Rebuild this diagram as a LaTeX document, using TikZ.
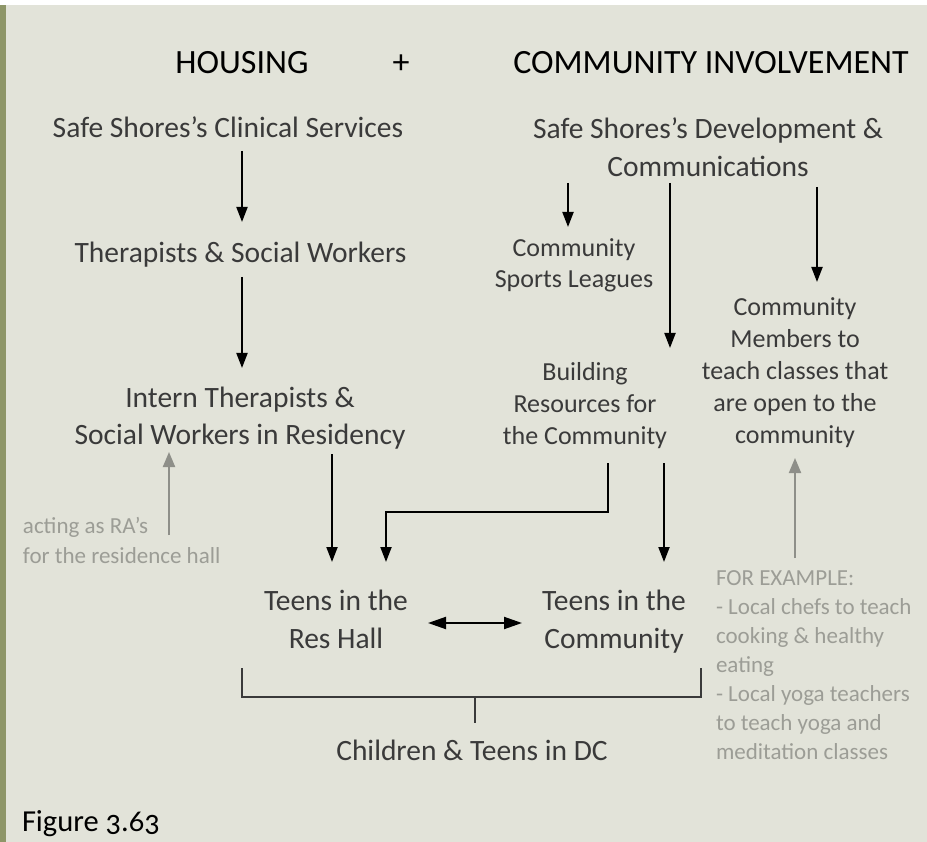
\documentclass[tikz,border=0pt]{standalone}
\usepackage{fontspec}
\setmainfont{Carlito}
\usetikzlibrary{arrows.meta,calc}

\definecolor{paper}{HTML}{E2E3D9}
\definecolor{spine}{HTML}{8E9668}
\definecolor{ink}{HTML}{3A3A3A}
\definecolor{note}{HTML}{9C9D96}
\definecolor{notearrow}{HTML}{8E8F89}

\begin{document}
\begin{tikzpicture}[x=1pt,y=-1pt,
  every node/.style={inner sep=0pt,outer sep=0pt},
  head/.style={font=\fontsize{34}{40}\selectfont,text=black,anchor=base},
  body/.style={font=\fontsize{29.5}{37}\selectfont,text=ink,anchor=base,align=center},
  small/.style={font=\fontsize{26}{32}\selectfont,text=ink,anchor=base,align=center},
  remark/.style={font=\fontsize{23}{29}\selectfont,text=note,anchor=base west,align=left},
  arr/.style={draw=black,line width=2pt,-{Triangle[width=11pt,length=15pt]}},
  darr/.style={draw=black,line width=2pt,{Triangle[width=12pt,length=18pt]}-{Triangle[width=12pt,length=18pt]}},
  garr/.style={draw=notearrow,line width=2pt,-{Triangle[width=12pt,length=15pt]}},
  brace/.style={draw=ink,line width=1.5pt}
]
% page, background and left spine
\useasboundingbox (0,0) rectangle (927,842);
\fill[white] (0,0) rectangle (927,842);
\fill[paper] (0,5) rectangle (927,842);
\fill[spine] (0,5) rectangle (6,842);

% headings
\node[head] (housing) at (242,74) {HOUSING};
\node[head] (plus) at (401,74) {+};
\node[head] (involve) at (711,74) {COMMUNITY INVOLVEMENT};

% housing column (multi-line nodes sit on their last baseline)
\node[body] (clin) at (228,138) {Safe Shores's Clinical Services};
\node[body] (ther) at (240.5,263) {Therapists \& Social Workers};
\node[body] (intern) at (240,444) {Intern Therapists \&\\Social Workers in Residency};
\node[remark,font=\fontsize{23}{30}\selectfont] (ra) at (23,563) {acting as RA's\\for the residence hall};

% community column
\node[body,font=\fontsize{29.5}{38}\selectfont] (dev) at (708,177) {Safe Shores's Development \&\\Communications};
\node[small,font=\fontsize{26}{31}\selectfont] (sports) at (574,288) {Community\\Sports Leagues};
\node[small,font=\fontsize{26}{32.5}\selectfont] (build) at (585,445) {Building\\Resources for\\the Community};
\node[small] (members) at (795,443) {Community\\Members to\\teach classes that\\are open to the\\community};
\node[remark] (example) at (716,759) {FOR EXAMPLE:\\- Local chefs to teach\\cooking \& healthy\\eating\\- Local yoga teachers\\to teach yoga and\\meditation classes};

% teens and children
\node[body,font=\fontsize{29.5}{38}\selectfont] (resh) at (336,648) {Teens in the\\Res Hall};
\node[body,font=\fontsize{29.5}{38}\selectfont] (teenc) at (614,648) {Teens in the\\Community};
\node[body] (kids) at (472,760) {Children \& Teens in DC};

% caption
\node[font=\fontsize{30.5}{36}\selectfont\addfontfeatures{Numbers=OldStyle},text=black,anchor=base west] (fig) at (22,831) {Figure 3.63};

% housing arrows
\draw[arr] ($(clin.base)+(14,13)$) -- ($(ther.base)+(1.5,-41)$);
\draw[arr] ($(ther.base)+(1.5,14)$) -- ($(intern.base)+(2,-76)$);
\draw[arr] ($(intern.base)+(92,10)$) -- ($(resh.base)+(-4,-86)$);
\draw[garr] ($(ra.base west)+(146,-28)$) -- ($(intern.base)+(-71,8)$);

% community arrows
\draw[arr] ($(dev.base)+(-140,6)$) -- ($(sports.base)+(-6,-61)$);
\draw[arr] ($(dev.base)+(-38,6)$) -- ($(build.base)+(85,-97)$);
\draw[arr] ($(dev.base)+(109,10)$) -- ($(members.base)+(22,-161)$);
\draw[arr] ($(build.base)+(23,18)$) |- ($(resh.base)+(50,-136)$) -- ($(resh.base)+(50,-86)$);
\draw[arr] ($(build.base)+(79,18)$) -- ($(teenc.base)+(50,-86)$);
\draw[garr] ($(example.base west)+(79,-201)$) -- ($(members.base)+(0,15)$);

% teens link and bracket to children
\draw[darr] ($(resh.base)+(92,-25)$) -- ($(teenc.base)+(-92,-25)$);
\draw[brace] ($(resh.base)+(-94,20)$) -- ($(resh.base)+(-94,49)$) -- ($(teenc.base)+(87,49)$) -- ($(teenc.base)+(87,20)$);
\draw[brace] ($(kids.base)+(3,-63)$) -- ($(kids.base)+(3,-37)$);
\end{tikzpicture}
\end{document}
